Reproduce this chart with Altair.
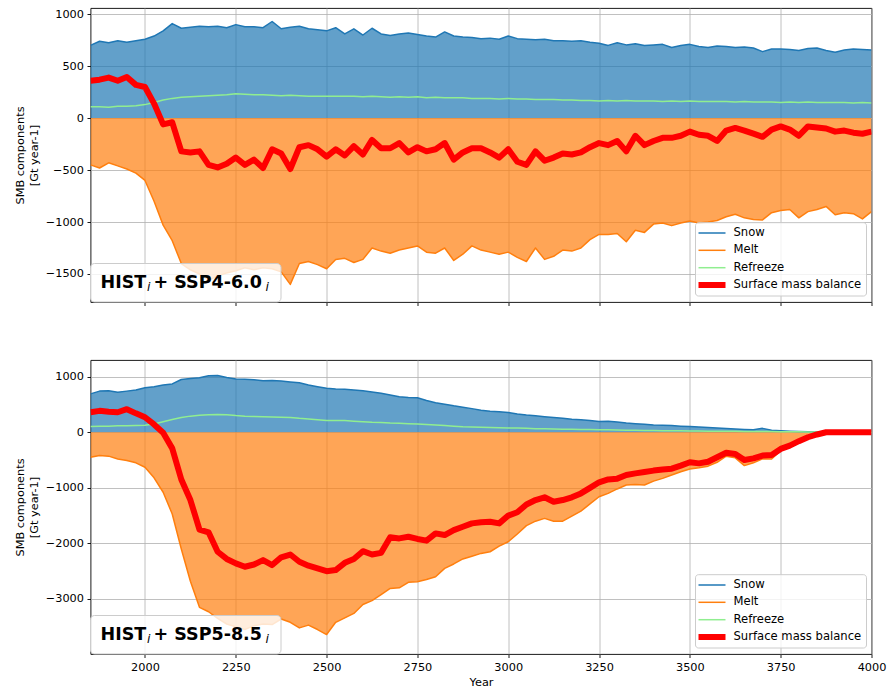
import altair as alt
import pandas as pd

years = list(range(1850, 4001, 25))

# ---------------- Top panel: HIST + SSP4-6.0 ----------------
top_snow = [
    700, 740, 725, 745, 730, 745, 760, 790, 840, 910,
    865, 875, 885, 880, 885, 870, 900, 880, 880, 870,
    930, 860, 875, 885, 860, 850, 840, 870, 810, 860,
    800, 865, 810, 795, 810, 820, 805, 790, 780, 830,
    790, 780, 775, 765, 770, 760, 790, 765, 760, 755,
    760, 745, 745, 740, 745, 730, 720, 700, 725, 705,
    715, 700, 705, 710, 680, 700, 710, 690, 680, 695,
    690, 680, 685, 675, 640, 665, 665, 660, 650, 670,
    675, 650, 635, 655, 665, 660, 655,
]
top_melt = [
    -450, -480, -430, -460, -490, -530, -600, -800, -1030, -1180,
    -1400, -1460, -1500, -1560, -1520, -1490, -1470, -1440, -1460, -1440,
    -1450, -1480, -1600, -1400, -1380, -1410, -1450, -1360, -1350, -1390,
    -1360, -1250, -1280, -1300, -1270, -1250, -1230, -1290, -1300, -1250,
    -1370, -1310, -1230, -1270, -1290, -1310, -1290, -1340, -1380, -1250,
    -1360, -1330, -1270, -1280, -1250, -1170, -1120, -1120, -1110, -1190,
    -1080, -1100, -1020, -1010, -1035, -1010, -990, -1010, -1000, -985,
    -950, -925, -960, -975, -980, -910, -890, -880, -960, -900,
    -880, -850, -930, -910, -920, -970, -900,
]
top_refreeze = [
    110, 110, 105, 115, 115, 120, 130, 150, 175, 190,
    200, 205, 210, 215, 220, 225, 235, 230, 225, 225,
    220, 215, 220, 215, 210, 210, 210, 210, 210, 210,
    205, 210, 205, 200, 205, 200, 205, 195, 200, 195,
    195, 195, 190, 190, 190, 185, 190, 185, 185, 180,
    180, 180, 175, 175, 170, 170, 165, 170, 165, 170,
    165, 165, 165, 160, 165, 160, 165, 160, 160, 160,
    160, 155, 160, 155, 155, 155, 150, 155, 150, 155,
    150, 150, 150, 150, 145, 150, 145,
]
top_smb = [
    360, 370, 390, 360, 395, 320, 300, 140, -60, -40,
    -320, -330, -320, -450, -475, -440, -380, -450, -400, -480,
    -300, -340, -490, -280, -260, -300, -370, -300, -360, -270,
    -350, -210, -290, -290, -240, -330, -280, -320, -300, -240,
    -400, -330, -290, -290, -330, -380, -300, -420, -450, -320,
    -410, -380, -340, -350, -330, -280, -240, -260, -220, -320,
    -170, -260, -220, -190, -190, -170, -130, -160, -170, -220,
    -120, -95, -120, -150, -180, -110, -80, -110, -170, -80,
    -90, -100, -130, -120, -140, -150, -130,
]

# ---------------- Bottom panel: HIST + SSP5-8.5 ----------------
bot_snow = [
    690, 740, 745, 720, 740, 760, 800, 820, 850, 870,
    950, 965, 980, 1015, 1020, 985, 960, 955, 945, 925,
    930, 920, 905, 890, 850, 820, 790, 780, 775, 760,
    745, 725, 700, 670, 640, 625, 620, 570, 530, 505,
    475, 450, 425, 395, 380, 370, 355, 330, 310, 295,
    280, 265, 250, 235, 225, 210, 195, 200, 185, 165,
    155, 145, 130, 125, 120, 110, 102, 95, 85, 75,
    68, 58, 50, 45, 70, 35, 25, 18, 14, 10,
    5, 0, 0, 0, 0, 0, 0,
]
bot_melt = [
    -450, -420, -430, -480, -510, -550, -630, -820, -1080, -1470,
    -2100, -2680, -3150, -3230, -3350, -3450, -3500, -3550, -3480, -3450,
    -3460, -3360, -3420, -3520, -3470, -3550, -3640, -3420, -3340, -3260,
    -3100, -3030, -2920, -2810, -2800, -2700, -2690, -2650, -2600, -2450,
    -2370, -2280, -2230, -2180, -2150, -2050, -1970, -1830, -1680, -1600,
    -1550, -1600, -1600, -1510, -1420, -1290, -1160, -1100, -1020, -950,
    -940, -950, -880, -830, -770, -710, -660, -640, -610, -540,
    -430, -460, -600, -550, -480, -480, -330, -270, -190, -100,
    -50, 0, 0, 0, 0, 0, 0,
]
bot_refreeze = [
    105, 110, 110, 115, 115, 120, 125, 150, 190, 230,
    265, 290, 305, 315, 320, 315, 300, 290, 285, 280,
    275, 270, 265, 250, 240, 225, 210, 210, 210, 200,
    190, 180, 175, 165, 160, 155, 150, 140, 130, 120,
    110, 100, 95, 90, 85, 80, 78, 75, 70, 65,
    62, 58, 55, 52, 50, 48, 46, 44, 40, 38,
    35, 33, 30, 28, 27, 25, 24, 22, 20, 19,
    18, 16, 15, 14, 13, 12, 11, 10, 9, 6,
    3, 0, 0, 0, 0, 0, 0,
]
bot_smb = [
    360, 385, 370, 360, 415, 340, 270, 140, -10, -290,
    -850, -1220, -1750, -1800, -2150, -2280, -2360, -2420, -2380, -2300,
    -2390, -2250, -2200, -2330, -2400, -2450, -2500, -2480, -2350, -2280,
    -2140, -2200, -2170, -1890, -1910, -1880, -1920, -1950, -1820, -1850,
    -1760, -1700, -1640, -1620, -1610, -1640, -1500, -1440, -1300, -1220,
    -1170, -1250, -1220, -1170, -1100, -1000, -900, -850, -835, -770,
    -740, -715, -690, -670, -655, -600, -540, -560, -530, -450,
    -370, -390, -500, -470, -420, -410, -300, -240, -160, -90,
    -40, 0, 0, 0, 0, 0, 0,
]

x_ticks = [2000, 2250, 2500, 2750, 3000, 3250, 3500, 3750, 4000]
top_yticks = [-1500, -1000, -500, 0, 500, 1000]
bot_yticks = [-3000, -2000, -1000, 0, 1000]
series = ["Snow", "Melt", "Refreeze", "Surface mass balance"]
colors = ["#1f77b4", "#ff7f0e", "#90ee90", "#ff0000"]
widths = [1.5, 1.5, 1.5, 6]

FONT = "DejaVu Sans"
W, H = 781, 294


def panel(snow, melt, refreeze, smb, ydomain, yticks, scen, bottom):
    df = pd.DataFrame({
        "Year": years, "Snow": snow, "Melt": melt,
        "Refreeze": refreeze, "Surface mass balance": smb,
    })
    df["zero"] = 0
    base = alt.Chart(df)

    xaxis = alt.Axis(values=x_ticks, format="d", labels=bottom,
                     labelFlush=False, grid=True, titlePadding=4)
    X = alt.X("Year:Q", scale=alt.Scale(domain=[1850, 4000], nice=False, zero=False),
              axis=xaxis, title=("Year" if bottom else None))
    yscale = alt.Scale(domain=ydomain, nice=False, zero=False)
    yaxis = alt.Axis(values=yticks, format="d", grid=True, titlePadding=6,
                     titleLineHeight=14)

    def Y(field):
        return alt.Y(field, type="quantitative", scale=yscale, axis=yaxis,
                     title=["SMB components", "[Gt year-1]"])

    layers = [
        base.mark_area(color=colors[0], opacity=0.7, clip=True).encode(
            x=X, y=Y("Snow"), y2="zero:Q"),
        base.mark_area(color=colors[1], opacity=0.7, clip=True).encode(
            x=X, y=Y("Melt"), y2="zero:Q"),
    ]
    for name, col, w in zip(series, colors, widths):
        layers.append(base.mark_line(color=col, strokeWidth=w, clip=True,
                                     strokeJoin="round").encode(x=X, y=Y(name)))

    one = alt.Chart(pd.DataFrame({"k": [0]}))

    # scenario label box (lower left)
    layers.append(one.mark_rect(fill="white", fillOpacity=0.8, stroke="#cccccc",
                                strokeWidth=1, cornerRadius=4).encode(
        x=alt.value(0), x2=alt.value(190.5), y=alt.value(255.5), y2=alt.value(H)))
    big = dict(font=FONT, fontSize=17.5, fontWeight="bold", align="left",
               baseline="alphabetic", color="black")
    small = dict(font=FONT, fontSize=12.3, fontStyle="italic", align="left",
                 baseline="alphabetic", color="black")
    layers += [
        one.mark_text(text="HIST", **big).encode(x=alt.value(10), y=alt.value(280)),
        one.mark_text(text="i", **small).encode(x=alt.value(56.5), y=alt.value(283)),
        one.mark_text(text="+ " + scen, **big).encode(x=alt.value(63), y=alt.value(280)),
        one.mark_text(text="i", **small).encode(x=alt.value(175), y=alt.value(283)),
    ]

    # legend (lower right)
    layers.append(one.mark_rect(fill="white", fillOpacity=0.8, stroke="#cccccc",
                                strokeWidth=1, cornerRadius=3).encode(
        x=alt.value(605), x2=alt.value(776), y=alt.value(214.7), y2=alt.value(288)))
    row_y = [225, 242.3, 259.7, 277]
    for name, col, w, yy in zip(series, colors, widths, row_y):
        layers.append(one.mark_rule(color=col, strokeWidth=w, strokeCap="butt").encode(
            x=alt.value(608), x2=alt.value(635), y=alt.value(yy)))
        layers.append(one.mark_text(text=name, font=FONT, fontSize=11.6, align="left",
                                    baseline="middle", color="black").encode(
            x=alt.value(643), y=alt.value(yy)))

    return alt.layer(*layers).properties(width=W, height=H)


top = panel(top_snow, top_melt, top_refreeze, top_smb, [-1770, 1060], top_yticks,
            "SSP4-6.0", False)
bot = panel(bot_snow, bot_melt, bot_refreeze, bot_smb, [-3990, 1300], bot_yticks,
            "SSP5-8.5", True)

chart = alt.vconcat(top, bot, spacing=52).resolve_scale(
    y="independent"
).properties(
    padding={"left": 13.5, "top": 7, "right": 1, "bottom": 5},
    background="white",
).configure_view(
    stroke="black", strokeWidth=0.9
).configure_axis(
    labelFont=FONT, labelFontSize=11.3, labelColor="black",
    titleFont=FONT, titleFontSize=11.3, titleFontWeight="normal", titleColor="black",
    tickColor="black", tickSize=3.5, tickWidth=0.9, labelPadding=3.5,
    gridColor="#b0b0b0", gridWidth=0.8, domain=False,
)

chart.save("out.html", embed_options={"renderer": "svg", "actions": False})
